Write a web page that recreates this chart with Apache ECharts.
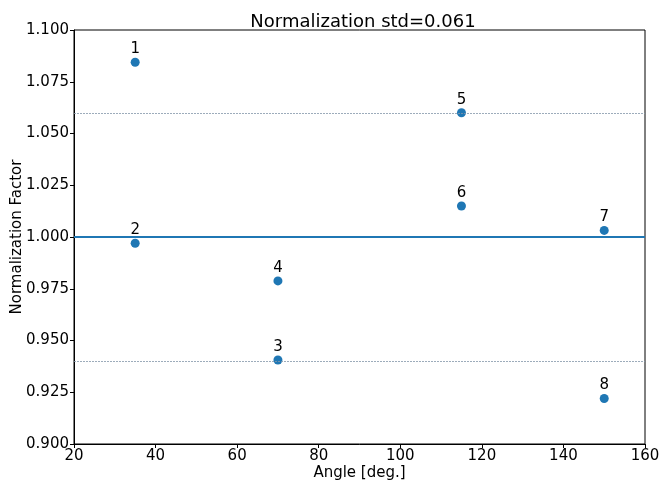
<!DOCTYPE html>
<html>
<head>
<meta charset="utf-8">
<script src="https://cdn.jsdelivr.net/npm/echarts@6/dist/echarts.min.js"></script>
<style>html,body{margin:0;padding:0;background:#fff}#c{width:660px;height:481px}</style>
</head>
<body>
<div id="c"></div>
<script>
const angles = [35, 35, 70, 70, 115, 115, 150, 150];
const factors = [1.0844, 0.9970, 0.9406, 0.9788, 1.0600, 1.0150, 1.0032, 0.9220];
const pointLabels = ['1', '2', '3', '4', '5', '6', '7', '8'];
const meanValue = 1.0;
const stdValue = 0.061;
const titleText = 'Normalization std=0.061';

const font = 'DejaVu Sans';
const chart = echarts.init(document.getElementById('c'), null, {renderer: 'canvas'});
const data = angles.map((a, i) => ({value: [a, factors[i]], name: pointLabels[i]}));
chart.setOption({
  animation: false,
  backgroundColor: '#ffffff',
  title: {
    text: titleText, left: 358, top: 8, textAlign: 'center',
    textStyle: {fontFamily: font, fontSize: 18, fontWeight: 'normal', color: '#000'}
  },
  grid: {left: 74, right: 15, top: 30, bottom: 37, containLabel: false, outerBoundsMode: 'none',
    show: true, borderColor: '#000', borderWidth: 1, backgroundColor: 'transparent'},
  xAxis: {
    type: 'value', min: 20, max: 160, interval: 20,
    name: 'Angle [deg.]', nameLocation: 'middle', nameGap: 22, nameMoveOverlap: false,
    nameTextStyle: {fontFamily: font, fontSize: 15, color: '#000'},
    axisLine: {show: true, onZero: false, lineStyle: {color: '#000', width: 1}},
    axisTick: {show: true, length: 4, lineStyle: {color: '#000'}},
    axisLabel: {fontFamily: font, fontSize: 15, color: '#000', margin: 5},
    splitLine: {show: false}
  },
  yAxis: {
    type: 'value', min: 0.9, max: 1.1, interval: 0.025,
    name: 'Normalization Factor', nameLocation: 'middle', nameGap: 49, nameMoveOverlap: false,
    nameTextStyle: {fontFamily: font, fontSize: 15, color: '#000'},
    axisLine: {show: true, lineStyle: {color: '#000', width: 1}},
    axisTick: {show: true, length: 4, lineStyle: {color: '#000'}},
    axisLabel: {fontFamily: font, fontSize: 15, color: '#000', margin: 5, formatter: v => v.toFixed(3)},
    splitLine: {show: false}
  },
  series: [{
    type: 'scatter',
    data: data,
    symbolSize: 9,
    itemStyle: {color: '#1f77b4', opacity: 1},
    label: {show: true, position: 'top', distance: 1, formatter: p => p.name,
      fontFamily: font, fontSize: 15, color: '#000'},
    markLine: {
      silent: true, symbol: 'none', label: {show: false},
      data: [
        {yAxis: meanValue, lineStyle: {color: '#1f77b4', width: 2, type: 'solid'}},
        {yAxis: meanValue + stdValue, lineStyle: {color: '#8497aa', width: 0.8, type: [2, 1]}},
        {yAxis: meanValue - stdValue, lineStyle: {color: '#8497aa', width: 0.8, type: [2, 1]}}
      ]
    },
    z: 3
  }]
});
</script>
</body>
</html>
